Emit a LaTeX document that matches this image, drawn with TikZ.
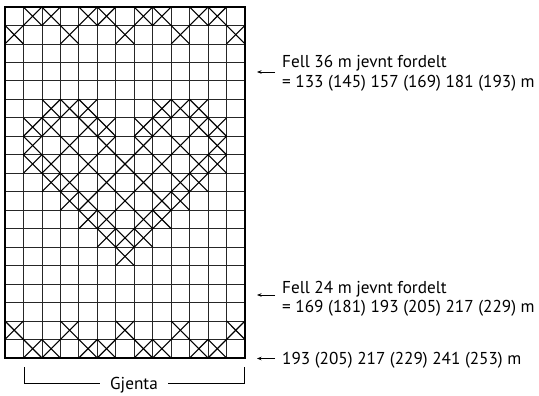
\documentclass[tikz,border=0pt]{standalone}
\usepackage{fontspec}
\setmainfont{PT Sans}
\usetikzlibrary{arrows.meta}
\begin{document}
\begin{tikzpicture}[x=1pt,y=-1pt,
  gridline/.style={line width=0.8pt,black!85},
  border/.style={line width=1.3pt},
  crossmark/.style={line width=1.1pt},
  lbl/.style={font=\fontsize{17.2}{20}\selectfont,inner sep=0pt,anchor=base west},
  ptr/.style={line width=0.7pt,-{Stealth[length=4.5pt,width=3.5pt]}}]
\useasboundingbox (0,0) rectangle (539,396);
\def\gx{5}\def\gy{7}\def\cw{18.46}\def\ch{18.47}
% grid lines
\foreach \i in {1,...,12} \draw[gridline] ({\gx+\i*\cw},\gy) -- ({\gx+\i*\cw},{\gy+19*\ch});
\foreach \j in {1,...,18} \draw[gridline] (\gx,{\gy+\j*\ch}) -- ({\gx+13*\cw},{\gy+\j*\ch});
% crosses: row/columns
\foreach \r/\cols in {1/{2,3,5,6,8,9,11,12},2/{1,4,7,10,13},6/{3,4,5,9,10,11},7/{2,3,5,6,8,9,11,12},8/{2,4,6,8,10,12},9/{2,3,5,7,9,11,12},10/{3,4,6,8,10,11},11/{4,5,7,9,10},12/{5,6,8,9},13/{6,7,8},14/{7},18/{1,4,7,10,13},19/{2,3,5,6,8,9,11,12}}{
  \foreach \c in \cols {
    \draw[crossmark] ({\gx+(\c-1)*\cw},{\gy+(\r-1)*\ch}) -- ({\gx+\c*\cw},{\gy+\r*\ch});
    \draw[crossmark] ({\gx+\c*\cw},{\gy+(\r-1)*\ch}) -- ({\gx+(\c-1)*\cw},{\gy+\r*\ch});
  }
}
\draw[border] (\gx,\gy) rectangle ({\gx+13*\cw},{\gy+19*\ch});
% labels
\node[lbl] (t1) at (282,68) {Fell 36 m jevnt fordelt};
\node[lbl] (t1b) at (282,88) {= 133 (145) 157 (169) 181 (193) m};
\node[lbl] (t2) at (282,293) {Fell 24 m jevnt fordelt};
\node[lbl] (t2b) at (282,312) {= 169 (181) 193 (205) 217 (229) m};
\node[lbl] (t3) at (282,364.5) {193 (205) 217 (229) 241 (253) m};
\coordinate (a1s) at (275,72); \coordinate (a1e) at (257,72);
\coordinate (a2s) at (275,295); \coordinate (a2e) at (257,295);
\coordinate (a3s) at (275,358.5); \coordinate (a3e) at (257,358.5);
\draw[ptr] (a1s) -- (a1e);
\draw[ptr] (a2s) -- (a2e);
\draw[ptr] (a3s) -- (a3e);
% Gjenta bracket
\node[font=\fontsize{17.2}{20}\selectfont,inner sep=0pt,anchor=base] (g) at (134,389) {Gjenta};
\coordinate (bl) at (24,367); \coordinate (br) at (244.5,367);
\draw[line width=0.8pt] (bl) |- ([xshift=-10pt]g.west |- 0,383);
\draw[line width=0.8pt] (br) |- ([xshift=10pt]g.east |- 0,383);
\end{tikzpicture}
\end{document}
